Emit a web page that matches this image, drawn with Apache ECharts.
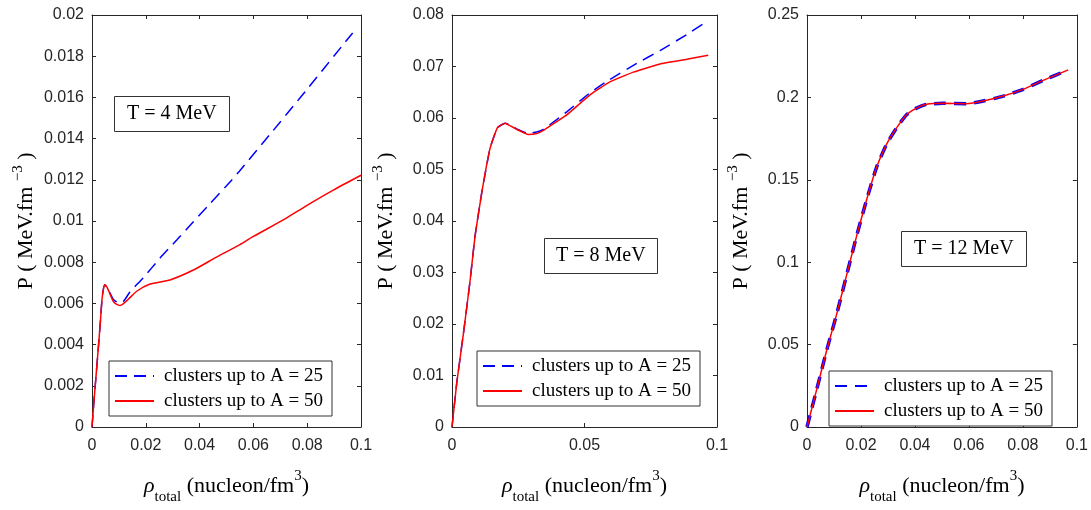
<!DOCTYPE html>
<html><head><meta charset="utf-8">
<script src="https://cdn.jsdelivr.net/npm/echarts@6/dist/echarts.min.js"></script>
<style>html,body{margin:0;padding:0;background:#fff}#c{width:1091px;height:510px}</style>
</head><body><div id="c"></div>
<script>
// ---- data ----
const t4_A25 = [[0,0],[0.0007,0.0012],[0.0017,0.0028],[0.003,0.0049],[0.0038,0.0063],[0.0047,0.0069],[0.0055,0.0068],[0.0064,0.00658],[0.0079,0.0062],[0.0092,0.00607],[0.0104,0.00603],[0.0116,0.00608],[0.0141,0.00655],[0.0191,0.00725],[0.0253,0.0082],[0.0315,0.00908],[0.0364,0.00978],[0.0439,0.01085],[0.0501,0.01172],[0.0548,0.01242],[0.066,0.01418],[0.0773,0.01597],[0.0969,0.01913]];
const t4_A50 = [[0,0],[0.0007,0.0012],[0.0017,0.0028],[0.003,0.0049],[0.0038,0.0063],[0.0047,0.0069],[0.0055,0.0068],[0.0064,0.00655],[0.0079,0.0061],[0.0092,0.00595],[0.0104,0.0059],[0.0116,0.00598],[0.0135,0.0062],[0.0166,0.00659],[0.0216,0.00694],[0.029,0.00714],[0.0377,0.00762],[0.0463,0.00825],[0.0548,0.00884],[0.06,0.00925],[0.0711,0.01005],[0.0798,0.01075],[0.0897,0.0115],[0.1,0.01222]];
const t8_A25 = [[0,0],[0.0018,0.0086],[0.0043,0.0181],[0.0068,0.0283],[0.0087,0.0371],[0.0112,0.0454],[0.0143,0.054],[0.0171,0.0581],[0.02,0.059],[0.0244,0.0579],[0.0288,0.057],[0.032,0.0573],[0.0345,0.0578],[0.0395,0.0597],[0.0433,0.0612],[0.0521,0.0649],[0.0596,0.0675],[0.0697,0.0706],[0.0785,0.0731],[0.0886,0.0762],[0.0967,0.0789]];
const t8_A50 = [[0,0],[0.0018,0.0086],[0.0043,0.0181],[0.0068,0.0283],[0.0087,0.0371],[0.0112,0.0454],[0.0143,0.054],[0.0171,0.0581],[0.02,0.059],[0.0244,0.0578],[0.0288,0.0568],[0.032,0.057],[0.0345,0.0576],[0.0395,0.0593],[0.0433,0.0606],[0.0521,0.0645],[0.0596,0.067],[0.0684,0.0689],[0.0785,0.0705],[0.0886,0.0714],[0.0967,0.0722]];
const t12_A25 = [[0,0],[0.0036,0.0228],[0.0073,0.0466],[0.011,0.0685],[0.0147,0.0923],[0.0184,0.116],[0.0221,0.1379],[0.0258,0.1577],[0.0295,0.1716],[0.0332,0.1815],[0.0369,0.1895],[0.0406,0.1935],[0.0443,0.1958],[0.0505,0.1964],[0.0591,0.1962],[0.0653,0.1978],[0.0727,0.2008],[0.0801,0.2049],[0.0875,0.2103],[0.0968,0.2167]];
const t12_A50 = [[0,0],[0.0036,0.0228],[0.0073,0.0466],[0.011,0.0685],[0.0147,0.0923],[0.0184,0.116],[0.0221,0.1379],[0.0258,0.1577],[0.0295,0.1716],[0.0332,0.1815],[0.0369,0.1895],[0.0406,0.1935],[0.0443,0.1958],[0.0505,0.1964],[0.0591,0.1962],[0.0653,0.1978],[0.0727,0.2008],[0.0801,0.2049],[0.0875,0.2103],[0.0968,0.2167]];
const yMaxs = [0.02, 0.08, 0.25];
const yIntervals = [0.002, 0.01, 0.05];
const xMax = 0.1;
const xIntervals = [0.02, 0.05, 0.02];
const panelTitles = ['T = 4 MeV', 'T = 8 MeV', 'T = 12 MeV'];
const legendLabels = ['clusters up to A = 25', 'clusters up to A = 50'];

// ---- styling / layout ----
const SERIF = "'Liberation Serif','Times New Roman',serif";
const SANS = "'Liberation Sans',Arial,sans-serif";
const AX = '#262626';
const gridBoxes = [
  {left: 92, width: 269, top: 15, height: 420},
  {left: 452, width: 265, top: 15, height: 420},
  {left: 807, width: 270, top: 15, height: 420}
];
const titlePos = [
  {left: 114, top: 96, padding: [7, 13]},
  {left: 544, top: 238, padding: [7, 12]},
  {left: 901, top: 231, padding: [7, 13]}
];
const legendPos = [
  {left: 109, top: 361},
  {left: 477, top: 351},
  {left: 829, top: 371}
];
const smoothness = [0.2, 0.12, 0.2];
const seriesData = [[t4_A25, t4_A50], [t8_A25, t8_A50], [t12_A25, t12_A50]];
const blueStyles = [
  {width: 1.5, type: [12, 7]},
  {width: 1.5, type: [12, 7]},
  {width: 3.5, type: [12, 8]}
];

const yNameRich = {
  a: {fontFamily: SERIF, fontSize: 22, color: '#000'},
  s: {fontFamily: SERIF, fontSize: 15, color: '#000', padding: [0, 0, 16, 0]}
};
const xNameRich = {
  r: {fontFamily: SERIF, fontSize: 22, fontStyle: 'italic', color: '#000'},
  sub: {fontFamily: SERIF, fontSize: 15, color: '#000', padding: [22, 0, 0, 0]},
  a: {fontFamily: SERIF, fontSize: 22, color: '#000'},
  sup: {fontFamily: SERIF, fontSize: 15, color: '#000', padding: [0, 0, 20, 0]}
};

const xAxis = [], yAxis = [], series = [], legend = [], title = [], grid = [];
const nameMap = {};
for (let i = 0; i < 3; i++) {
  grid.push(Object.assign({containLabel: false}, gridBoxes[i]));
  const common = {
    gridIndex: i, type: 'value', min: 0,
    axisLine: {show: true, onZero: false, lineStyle: {color: AX, width: 1}},
    axisTick: {show: true, inside: true, length: 4, lineStyle: {color: AX, width: 1}},
    splitLine: {show: false}
  };
  xAxis.push(Object.assign({}, common, {
    max: xMax, interval: xIntervals[i], position: 'bottom',
    axisLabel: {color: AX, fontFamily: SANS, fontSize: 16, margin: 11},
    name: '{r|ρ}{sub|total}{a| (nucleon/fm}{sup|3}{a|)}',
    nameLocation: 'middle', nameGap: 41,
    nameTextStyle: {rich: xNameRich}
  }));
  xAxis.push(Object.assign({}, common, {
    max: xMax, interval: xIntervals[i], position: 'top',
    axisLabel: {show: false}
  }));
  yAxis.push(Object.assign({}, common, {
    max: yMaxs[i], interval: yIntervals[i], position: 'left',
    axisLabel: {color: AX, fontFamily: SANS, fontSize: 16, margin: 8},
    name: '{a|P ( MeV.fm }{s|−3}{a| )}',
    nameLocation: 'middle', nameRotate: 90, nameGap: 50,
    nameTextStyle: {rich: yNameRich}
  }));
  yAxis.push(Object.assign({}, common, {
    max: yMaxs[i], interval: yIntervals[i], position: 'right',
    axisLabel: {show: false}
  }));
  const n25 = 'A25_' + i, n50 = 'A50_' + i;
  nameMap[n25] = legendLabels[0];
  nameMap[n50] = legendLabels[1];
  series.push({
    type: 'line', name: n25, xAxisIndex: 2 * i, yAxisIndex: 2 * i,
    data: seriesData[i][0], symbol: 'none', smooth: smoothness[i],
    lineStyle: Object.assign({color: '#0000ff'}, blueStyles[i]),
    itemStyle: {color: '#0000ff', opacity: 0}, z: 2
  });
  series.push({
    type: 'line', name: n50, xAxisIndex: 2 * i, yAxisIndex: 2 * i,
    data: seriesData[i][1], symbol: 'none', smooth: smoothness[i],
    lineStyle: {color: '#ff0000', width: 1.5, type: 'solid'},
    itemStyle: {color: '#ff0000', opacity: 0}, z: 3
  });
  legend.push(Object.assign({
    orient: 'vertical', data: [n25, n50], formatter: n => nameMap[n],
    itemWidth: 39, itemHeight: 14, itemGap: 3, padding: [4, 9, 4, 5],
    borderColor: '#333', borderWidth: 1, backgroundColor: '#fff', selectedMode: false,
    itemStyle: {opacity: 0},
    textStyle: {fontFamily: SERIF, fontSize: 19, color: '#000', lineHeight: 22, padding: [0, 0, 0, 5]}
  }, legendPos[i]));
  title.push(Object.assign({
    text: panelTitles[i], borderColor: '#333', borderWidth: 1,
    textStyle: {fontFamily: SERIF, fontSize: 20, fontWeight: 'normal', color: '#000', lineHeight: 22}
  }, titlePos[i]));
}

const chart = echarts.init(document.getElementById('c'), null, {renderer: 'canvas'});
chart.setOption({animation: false, backgroundColor: '#fff', grid, xAxis, yAxis, series, legend, title});
</script></body></html>
